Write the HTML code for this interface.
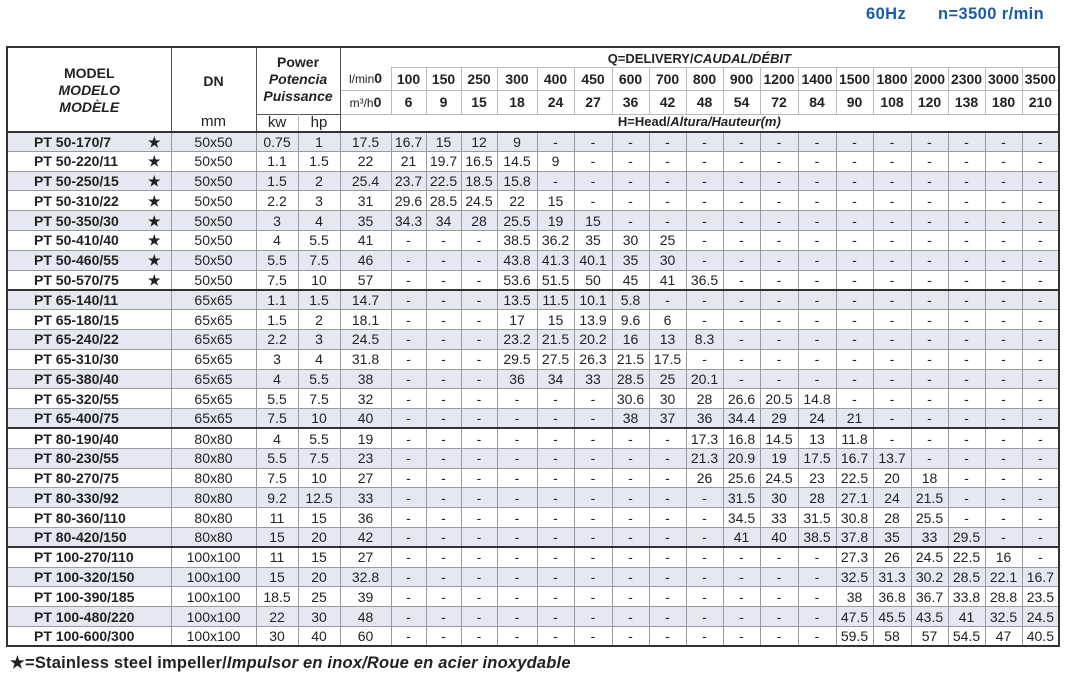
<!DOCTYPE html>
<html><head><meta charset="utf-8"><style>
body{margin:0;width:1068px;height:676px;background:#fff;font-family:"Liberation Sans",sans-serif;color:#222;position:relative;overflow:hidden}
.top{position:absolute;top:5px;font-weight:bold;font-size:16.5px;color:#1a5ca8;letter-spacing:0.4px}
table{position:absolute;left:6px;top:46px;border-collapse:collapse;table-layout:fixed;width:1052px;border:2px solid #333}
td{padding:0;text-align:center;font-size:14px;white-space:nowrap;overflow:hidden;border:1px solid #9a9a9a;line-height:16px}
tbody tr{height:19.8px}
tbody tr:nth-child(odd) td{background:#e5e8f0}
td.m{text-align:left;padding-left:26px;font-weight:bold;position:relative}
td.m span{position:absolute;left:140px}
tr.g td{border-top:2px solid #333}
thead td{border-color:#bbb}
thead .h{font-weight:bold}
.dk{border-left:1px solid #555!important;border-right:1px solid #555!important}
.foot{position:absolute;left:10px;top:653px;font-weight:bold;font-size:16.5px;letter-spacing:0.2px}
.u{font-weight:normal;font-size:12px}
</style></head><body>
<div class="top" style="left:866px">60Hz</div>
<div class="top" style="left:938px">n=3500 r/min</div>
<table>
<colgroup><col style="width:164px"><col style="width:85px"><col style="width:42px"><col style="width:42px"><col style="width:51px"><col style="width:35px"><col style="width:35px"><col style="width:36px"><col style="width:40px"><col style="width:37px"><col style="width:38px"><col style="width:37px"><col style="width:37px"><col style="width:37px"><col style="width:37px"><col style="width:38px"><col style="width:38px"><col style="width:37px"><col style="width:38px"><col style="width:37px"><col style="width:37px"><col style="width:37px"><col style="width:37px"></colgroup>
<thead>
<tr style="height:20px"><td rowspan="4" class="dk" style="border-bottom:2px solid #333;font-weight:bold;line-height:17px;vertical-align:top;padding-top:17px">MODEL<br><i>MODELO</i><br><i>MODÈLE</i></td><td rowspan="3" class="dk h" style="border-bottom:none">DN</td><td rowspan="3" colspan="2" class="dk h" style="border-bottom:none;line-height:17px;vertical-align:top;padding-top:6px">Power<br><i>Potencia</i><br><i>Puissance</i></td><td colspan="19" class="h" style="font-size:13px;border-bottom:none;border-left:1px solid #555;vertical-align:bottom">Q=DELIVERY/<i>CAUDAL/DÉBIT</i></td></tr>
<tr style="height:23px" class="h"><td style="border-left:1px solid #555;border-top:none"><span class="u">l/min</span>0</td><td>100</td><td>150</td><td>250</td><td>300</td><td>400</td><td>450</td><td>600</td><td>700</td><td>800</td><td>900</td><td>1200</td><td>1400</td><td>1500</td><td>1800</td><td>2000</td><td>2300</td><td>3000</td><td>3500</td></tr>
<tr style="height:24px" class="h"><td style="border-left:1px solid #555"><span class="u">m³/h</span>0</td><td>6</td><td>9</td><td>15</td><td>18</td><td>24</td><td>27</td><td>36</td><td>42</td><td>48</td><td>54</td><td>72</td><td>84</td><td>90</td><td>108</td><td>120</td><td>138</td><td>180</td><td>210</td></tr>
<tr style="height:17px"><td class="dk" style="border-top:none;border-bottom:2px solid #333;font-size:15px">mm</td><td style="border-left:1px solid #555;border-top:1px solid #555;border-bottom:2px solid #333;font-size:15px">kw</td><td style="border-right:1px solid #555;border-top:1px solid #555;border-bottom:2px solid #333;font-size:15px">hp</td><td colspan="19" class="h" style="font-size:13px;border-top:none;border-bottom:2px solid #333;border-left:1px solid #555;vertical-align:top;line-height:14px">H=Head/<i>Altura/Hauteur(m)</i></td></tr>
</thead>
<tbody>
<tr><td class="m">PT 50-170/7<span>★</span></td><td>50x50</td><td>0.75</td><td>1</td><td>17.5</td><td>16.7</td><td>15</td><td>12</td><td>9</td><td>-</td><td>-</td><td>-</td><td>-</td><td>-</td><td>-</td><td>-</td><td>-</td><td>-</td><td>-</td><td>-</td><td>-</td><td>-</td><td>-</td></tr>
<tr><td class="m">PT 50-220/11<span>★</span></td><td>50x50</td><td>1.1</td><td>1.5</td><td>22</td><td>21</td><td>19.7</td><td>16.5</td><td>14.5</td><td>9</td><td>-</td><td>-</td><td>-</td><td>-</td><td>-</td><td>-</td><td>-</td><td>-</td><td>-</td><td>-</td><td>-</td><td>-</td><td>-</td></tr>
<tr><td class="m">PT 50-250/15<span>★</span></td><td>50x50</td><td>1.5</td><td>2</td><td>25.4</td><td>23.7</td><td>22.5</td><td>18.5</td><td>15.8</td><td>-</td><td>-</td><td>-</td><td>-</td><td>-</td><td>-</td><td>-</td><td>-</td><td>-</td><td>-</td><td>-</td><td>-</td><td>-</td><td>-</td></tr>
<tr><td class="m">PT 50-310/22<span>★</span></td><td>50x50</td><td>2.2</td><td>3</td><td>31</td><td>29.6</td><td>28.5</td><td>24.5</td><td>22</td><td>15</td><td>-</td><td>-</td><td>-</td><td>-</td><td>-</td><td>-</td><td>-</td><td>-</td><td>-</td><td>-</td><td>-</td><td>-</td><td>-</td></tr>
<tr><td class="m">PT 50-350/30<span>★</span></td><td>50x50</td><td>3</td><td>4</td><td>35</td><td>34.3</td><td>34</td><td>28</td><td>25.5</td><td>19</td><td>15</td><td>-</td><td>-</td><td>-</td><td>-</td><td>-</td><td>-</td><td>-</td><td>-</td><td>-</td><td>-</td><td>-</td><td>-</td></tr>
<tr><td class="m">PT 50-410/40<span>★</span></td><td>50x50</td><td>4</td><td>5.5</td><td>41</td><td>-</td><td>-</td><td>-</td><td>38.5</td><td>36.2</td><td>35</td><td>30</td><td>25</td><td>-</td><td>-</td><td>-</td><td>-</td><td>-</td><td>-</td><td>-</td><td>-</td><td>-</td><td>-</td></tr>
<tr><td class="m">PT 50-460/55<span>★</span></td><td>50x50</td><td>5.5</td><td>7.5</td><td>46</td><td>-</td><td>-</td><td>-</td><td>43.8</td><td>41.3</td><td>40.1</td><td>35</td><td>30</td><td>-</td><td>-</td><td>-</td><td>-</td><td>-</td><td>-</td><td>-</td><td>-</td><td>-</td><td>-</td></tr>
<tr><td class="m">PT 50-570/75<span>★</span></td><td>50x50</td><td>7.5</td><td>10</td><td>57</td><td>-</td><td>-</td><td>-</td><td>53.6</td><td>51.5</td><td>50</td><td>45</td><td>41</td><td>36.5</td><td>-</td><td>-</td><td>-</td><td>-</td><td>-</td><td>-</td><td>-</td><td>-</td><td>-</td></tr>
<tr class="g"><td class="m">PT 65-140/11</td><td>65x65</td><td>1.1</td><td>1.5</td><td>14.7</td><td>-</td><td>-</td><td>-</td><td>13.5</td><td>11.5</td><td>10.1</td><td>5.8</td><td>-</td><td>-</td><td>-</td><td>-</td><td>-</td><td>-</td><td>-</td><td>-</td><td>-</td><td>-</td><td>-</td></tr>
<tr><td class="m">PT 65-180/15</td><td>65x65</td><td>1.5</td><td>2</td><td>18.1</td><td>-</td><td>-</td><td>-</td><td>17</td><td>15</td><td>13.9</td><td>9.6</td><td>6</td><td>-</td><td>-</td><td>-</td><td>-</td><td>-</td><td>-</td><td>-</td><td>-</td><td>-</td><td>-</td></tr>
<tr><td class="m">PT 65-240/22</td><td>65x65</td><td>2.2</td><td>3</td><td>24.5</td><td>-</td><td>-</td><td>-</td><td>23.2</td><td>21.5</td><td>20.2</td><td>16</td><td>13</td><td>8.3</td><td>-</td><td>-</td><td>-</td><td>-</td><td>-</td><td>-</td><td>-</td><td>-</td><td>-</td></tr>
<tr><td class="m">PT 65-310/30</td><td>65x65</td><td>3</td><td>4</td><td>31.8</td><td>-</td><td>-</td><td>-</td><td>29.5</td><td>27.5</td><td>26.3</td><td>21.5</td><td>17.5</td><td>-</td><td>-</td><td>-</td><td>-</td><td>-</td><td>-</td><td>-</td><td>-</td><td>-</td><td>-</td></tr>
<tr><td class="m">PT 65-380/40</td><td>65x65</td><td>4</td><td>5.5</td><td>38</td><td>-</td><td>-</td><td>-</td><td>36</td><td>34</td><td>33</td><td>28.5</td><td>25</td><td>20.1</td><td>-</td><td>-</td><td>-</td><td>-</td><td>-</td><td>-</td><td>-</td><td>-</td><td>-</td></tr>
<tr><td class="m">PT 65-320/55</td><td>65x65</td><td>5.5</td><td>7.5</td><td>32</td><td>-</td><td>-</td><td>-</td><td>-</td><td>-</td><td>-</td><td>30.6</td><td>30</td><td>28</td><td>26.6</td><td>20.5</td><td>14.8</td><td>-</td><td>-</td><td>-</td><td>-</td><td>-</td><td>-</td></tr>
<tr><td class="m">PT 65-400/75</td><td>65x65</td><td>7.5</td><td>10</td><td>40</td><td>-</td><td>-</td><td>-</td><td>-</td><td>-</td><td>-</td><td>38</td><td>37</td><td>36</td><td>34.4</td><td>29</td><td>24</td><td>21</td><td>-</td><td>-</td><td>-</td><td>-</td><td>-</td></tr>
<tr class="g"><td class="m">PT 80-190/40</td><td>80x80</td><td>4</td><td>5.5</td><td>19</td><td>-</td><td>-</td><td>-</td><td>-</td><td>-</td><td>-</td><td>-</td><td>-</td><td>17.3</td><td>16.8</td><td>14.5</td><td>13</td><td>11.8</td><td>-</td><td>-</td><td>-</td><td>-</td><td>-</td></tr>
<tr><td class="m">PT 80-230/55</td><td>80x80</td><td>5.5</td><td>7.5</td><td>23</td><td>-</td><td>-</td><td>-</td><td>-</td><td>-</td><td>-</td><td>-</td><td>-</td><td>21.3</td><td>20.9</td><td>19</td><td>17.5</td><td>16.7</td><td>13.7</td><td>-</td><td>-</td><td>-</td><td>-</td></tr>
<tr><td class="m">PT 80-270/75</td><td>80x80</td><td>7.5</td><td>10</td><td>27</td><td>-</td><td>-</td><td>-</td><td>-</td><td>-</td><td>-</td><td>-</td><td>-</td><td>26</td><td>25.6</td><td>24.5</td><td>23</td><td>22.5</td><td>20</td><td>18</td><td>-</td><td>-</td><td>-</td></tr>
<tr><td class="m">PT 80-330/92</td><td>80x80</td><td>9.2</td><td>12.5</td><td>33</td><td>-</td><td>-</td><td>-</td><td>-</td><td>-</td><td>-</td><td>-</td><td>-</td><td>-</td><td>31.5</td><td>30</td><td>28</td><td>27.1</td><td>24</td><td>21.5</td><td>-</td><td>-</td><td>-</td></tr>
<tr><td class="m">PT 80-360/110</td><td>80x80</td><td>11</td><td>15</td><td>36</td><td>-</td><td>-</td><td>-</td><td>-</td><td>-</td><td>-</td><td>-</td><td>-</td><td>-</td><td>34.5</td><td>33</td><td>31.5</td><td>30.8</td><td>28</td><td>25.5</td><td>-</td><td>-</td><td>-</td></tr>
<tr><td class="m">PT 80-420/150</td><td>80x80</td><td>15</td><td>20</td><td>42</td><td>-</td><td>-</td><td>-</td><td>-</td><td>-</td><td>-</td><td>-</td><td>-</td><td>-</td><td>41</td><td>40</td><td>38.5</td><td>37.8</td><td>35</td><td>33</td><td>29.5</td><td>-</td><td>-</td></tr>
<tr class="g"><td class="m">PT 100-270/110</td><td>100x100</td><td>11</td><td>15</td><td>27</td><td>-</td><td>-</td><td>-</td><td>-</td><td>-</td><td>-</td><td>-</td><td>-</td><td>-</td><td>-</td><td>-</td><td>-</td><td>27.3</td><td>26</td><td>24.5</td><td>22.5</td><td>16</td><td>-</td></tr>
<tr><td class="m">PT 100-320/150</td><td>100x100</td><td>15</td><td>20</td><td>32.8</td><td>-</td><td>-</td><td>-</td><td>-</td><td>-</td><td>-</td><td>-</td><td>-</td><td>-</td><td>-</td><td>-</td><td>-</td><td>32.5</td><td>31.3</td><td>30.2</td><td>28.5</td><td>22.1</td><td>16.7</td></tr>
<tr><td class="m">PT 100-390/185</td><td>100x100</td><td>18.5</td><td>25</td><td>39</td><td>-</td><td>-</td><td>-</td><td>-</td><td>-</td><td>-</td><td>-</td><td>-</td><td>-</td><td>-</td><td>-</td><td>-</td><td>38</td><td>36.8</td><td>36.7</td><td>33.8</td><td>28.8</td><td>23.5</td></tr>
<tr><td class="m">PT 100-480/220</td><td>100x100</td><td>22</td><td>30</td><td>48</td><td>-</td><td>-</td><td>-</td><td>-</td><td>-</td><td>-</td><td>-</td><td>-</td><td>-</td><td>-</td><td>-</td><td>-</td><td>47.5</td><td>45.5</td><td>43.5</td><td>41</td><td>32.5</td><td>24.5</td></tr>
<tr><td class="m">PT 100-600/300</td><td>100x100</td><td>30</td><td>40</td><td>60</td><td>-</td><td>-</td><td>-</td><td>-</td><td>-</td><td>-</td><td>-</td><td>-</td><td>-</td><td>-</td><td>-</td><td>-</td><td>59.5</td><td>58</td><td>57</td><td>54.5</td><td>47</td><td>40.5</td></tr>
</tbody>
</table>
<div class="foot">★=Stainless steel impeller/<i>Impulsor en inox/Roue en acier inoxydable</i></div>
</body></html>
